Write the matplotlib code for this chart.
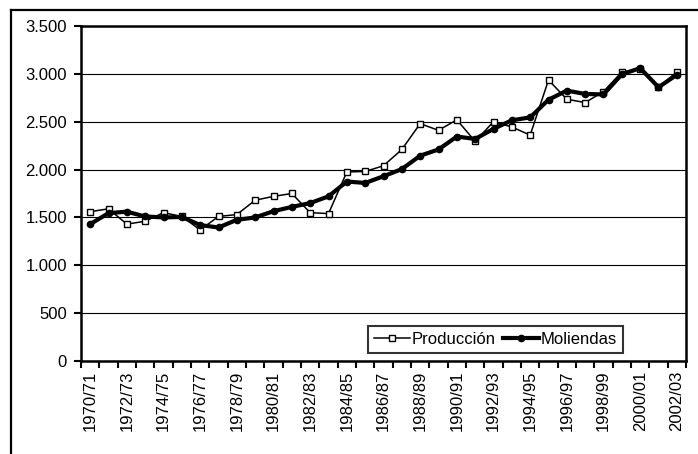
import numpy as np
import matplotlib
matplotlib.use("Agg")
import matplotlib.pyplot as plt
from matplotlib.lines import Line2D

plt.rcParams['font.family'] = ['Liberation Sans', 'DejaVu Sans']

# campañas 1970/71 .. 2002/03
campanas = ['%d/%02d' % (a, (a + 1) % 100) for a in range(1970, 2003)]

produccion = [1560, 1590, 1430, 1460, 1550, 1510, 1370, 1510, 1530, 1680,
              1720, 1750, 1550, 1540, 1975, 1980, 2040, 2210, 2480, 2410,
              2520, 2295, 2500, 2445, 2360, 2935, 2735, 2700, 2815, 3020,
              3050, 2860, 3020]
moliendas = [1430, 1545, 1560, 1510, 1500, 1505, 1420, 1395, 1475, 1500,
             1565, 1610, 1650, 1720, 1875, 1860, 1930, 2005, 2145, 2210,
             2345, 2320, 2425, 2515, 2545, 2730, 2825, 2790, 2785, 2995,
             3060, 2860, 2990]

y_ticks = [0, 500, 1000, 1500, 2000, 2500, 3000, 3500]
y_labels = ['0', '500', '1.000', '1.500', '2.000', '2.500', '3.000', '3.500']

fig = plt.figure(figsize=(6.98, 4.54), dpi=100)
ax = fig.add_axes([81 / 698, 1 - 361 / 454, 605 / 698, 335 / 454])

x = np.arange(len(campanas))
ax.plot(x, produccion, color='black', lw=1.1, marker='s', ms=4.5,
        mfc='white', mec='black', mew=1.0, label='Producción', zorder=3)
ax.plot(x, moliendas, color='black', lw=3.0, marker='o', ms=4.5,
        mfc='black', mec='black', label='Moliendas', zorder=4)

ax.set_xlim(-0.5, len(campanas) - 0.5)
ax.set_ylim(0, 3500)

ax.set_yticks(y_ticks)
ax.set_yticklabels(y_labels, fontsize=12)
ax.yaxis.grid(True, color='black', lw=0.8)
ax.set_axisbelow(True)

# ticks entre categorías, etiquetas cada dos campañas
ax.set_xticks(np.arange(-0.5, len(campanas), 1.0))
ax.set_xticklabels([])
ax.set_xticks(x[::2], minor=True)
ax.set_xticklabels(campanas[::2], minor=True, rotation=90, fontsize=12)
ax.tick_params(axis='x', which='major', direction='out', length=5,
               width=1.5, color='black')
ax.tick_params(axis='x', which='minor', length=0, pad=7)
ax.tick_params(axis='y', direction='out', length=5, width=1.5, pad=5)

for s in ax.spines.values():
    s.set_linewidth(1.8)
    s.set_color('black')

leg = ax.legend(loc='lower right', bbox_to_anchor=(0.896, 0.024),
                ncol=2, fontsize=12, frameon=True, fancybox=False,
                edgecolor='black', borderpad=0.35, handlelength=2.2,
                handletextpad=0.1, columnspacing=0.4, borderaxespad=0)
leg.get_frame().set_linewidth(1.5)

# marco exterior
fig.add_artist(Line2D([11 / 698, 11 / 698], [0, 1 - 10 / 454],
                      color='black', lw=1.6, transform=fig.transFigure))
fig.add_artist(Line2D([11 / 698, 1], [1 - 10 / 454, 1 - 10 / 454],
                      color='black', lw=1.6, transform=fig.transFigure))

fig.savefig('out.png', dpi=100)
